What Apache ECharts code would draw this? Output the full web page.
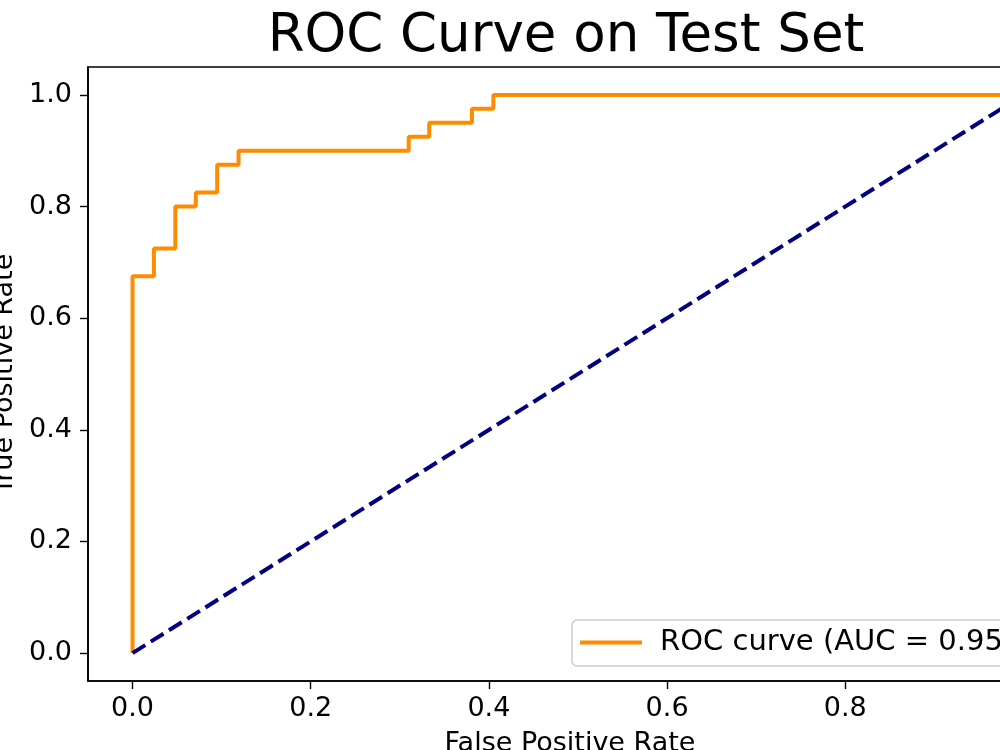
<!DOCTYPE html>
<html>
<head>
<meta charset="utf-8">
<script src="https://cdn.jsdelivr.net/npm/echarts@6/dist/echarts.min.js"></script>
<style>
  html, body { margin: 0; padding: 0; background: #fff; }
  #chart { width: 1000px; height: 750px; }
</style>
</head>
<body>
<div id="chart"></div>
<script>
// ROC corner points (42 negatives, 40 positives)
const fpr = [0, 0, 0.024, 0.024, 0.048, 0.048, 0.071, 0.071, 0.095, 0.095, 0.119, 0.119,
             0.310, 0.310, 0.333, 0.333, 0.381, 0.381, 0.405, 0.405, 1.0];
const tpr = [0, 0.675, 0.675, 0.725, 0.725, 0.800, 0.800, 0.825, 0.825, 0.875, 0.875, 0.900,
             0.900, 0.925, 0.925, 0.950, 0.950, 0.975, 0.975, 1.0, 1.0];
// chance line
const diagX = [0, 1];
const diagY = [0, 1];
const tickValues = [0, 0.2, 0.4, 0.6, 0.8, 1.0];
const rocName = 'ROC curve (AUC = 0.950)';

const font = 'DejaVu Sans';
let chart = echarts.init(document.getElementById('chart'));

// shared axis look (matplotlib-ish)
function axisBase(){
  return {
    type: 'value',
    min: -0.05,
    max: 1.05,
    splitLine: { show: false },
    axisLine: { show: true, onZero: false, lineStyle: { color: '#000', width: 1.6 } },
    axisTick: { show: true, inside: false, length: 8, customValues: tickValues,
                lineStyle: { color: '#000', width: 1.4 } },
    axisLabel: { customValues: tickValues, color: '#000', fontFamily: font, fontSize: 27,
                 formatter: v => v.toFixed(1) },
    nameLocation: 'middle',
    nameTextStyle: { color: '#000', fontFamily: font, fontSize: 27 }
  };
}

let xAxis = axisBase();
xAxis.name = 'False Positive Rate';
xAxis.nameGap = 49;
xAxis.nameTextStyle.padding = [0, 16, 0, 0];
xAxis.axisLabel.margin = 14;

let yAxis = axisBase();
yAxis.name = 'True Positive Rate';
yAxis.nameGap = 66;
yAxis.nameRotate = 90;
yAxis.axisLabel.margin = 16;

chart.setOption({
  animation: false,
  backgroundColor: '#fff',
  title: {
    text: 'ROC Curve on Test Set',
    left: 561, top: 6, textAlign: 'center',
    textStyle: { fontFamily: font, fontSize: 53, fontWeight: 'normal', color: '#000' }
  },
  grid: {
    left: 88, top: 67, width: 980, height: 614,
    show: true, borderColor: '#000', borderWidth: 1.6,
    containLabel: false, outerBoundsMode: 'none'
  },
  legend: {
    data: [rocName],
    left: 572, top: 620,
    orient: 'vertical',
    icon: 'rect',
    itemWidth: 62, itemHeight: 4,
    padding: [8, 12, 9, 8],
    backgroundColor: 'rgba(255,255,255,0.8)',
    borderColor: '#cccccc', borderWidth: 1.5, borderRadius: 5,
    textStyle: { fontFamily: font, fontSize: 29, color: '#000', padding: [0, 0, 0, 13] }
  },
  xAxis: xAxis,
  yAxis: yAxis,
  series: [
    {
      name: rocName,
      type: 'line',
      data: fpr.map((x, i) => [x, tpr[i]]),
      symbol: 'none',
      color: '#ff8c00',
      lineStyle: { color: '#ff8c00', width: 4 },
      z: 3
    },
    {
      name: 'chance',
      type: 'line',
      data: diagX.map((x, i) => [x, diagY[i]]),
      symbol: 'none',
      lineStyle: { color: '#000080', width: 4, type: [15, 6.5] },
      z: 4
    }
  ]
});
</script>
</body>
</html>
